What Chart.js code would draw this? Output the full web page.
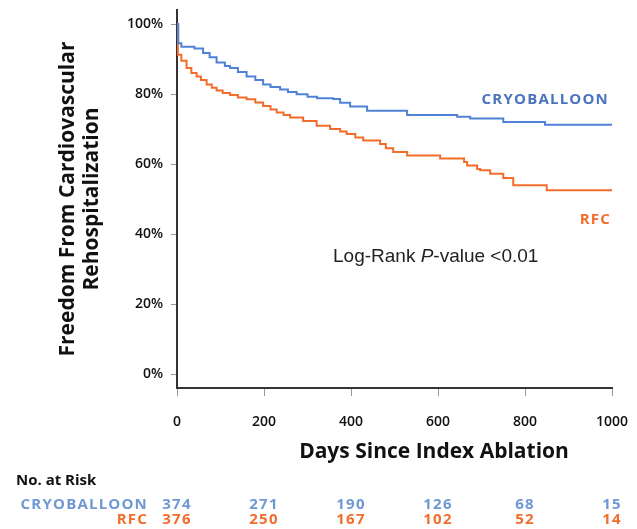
<!DOCTYPE html>
<html>
<head>
<meta charset="utf-8">
<script src="https://cdn.jsdelivr.net/npm/chart.js@4"></script>
<style>
  html, body { margin: 0; padding: 0; background: #fff; overflow: hidden; }
  #wrap { width: 637px; height: 529px; position: relative; }
  canvas { display: block; }
</style>
</head>
<body>
<div id="wrap"><canvas id="km"></canvas></div>
<script>
// Kaplan-Meier curves (days, % free from rehospitalization)
const cryoDays = [0, 3, 10, 40, 60, 75, 91, 110, 122, 140, 160, 180, 198, 215, 237, 255, 275, 300, 322, 359, 375, 398, 437, 529, 644, 674, 750, 846, 1000];
const cryoSurv = [100, 94.5, 93.5, 93, 91.7, 90.5, 89, 88, 87.4, 86.3, 85, 84, 82.7, 82, 81.3, 80.6, 79.9, 79.2, 78.8, 78.6, 77.5, 76.4, 75.2, 74, 73.5, 73, 72, 71.2, 71.2];

const rfcDays = [0, 2, 10, 22, 33, 45, 55, 68, 80, 91, 105, 122, 140, 160, 180, 198, 215, 229, 245, 260, 290, 321, 352, 375, 390, 410, 428, 467, 480, 497, 529, 605, 660, 667, 690, 697, 720, 750, 773, 850, 1000];
const rfcSurv = [100, 91.2, 89.5, 87.4, 86, 85, 84, 82.7, 81.8, 81, 80.3, 79.7, 79, 78.5, 77.6, 76.6, 75.6, 74.7, 74, 73.3, 72.3, 70.9, 70, 69.3, 68.6, 67.6, 66.7, 65.7, 64.5, 63.4, 62.4, 61.6, 60.6, 59.6, 58.6, 58.2, 57.2, 56, 53.9, 52.5, 52.5];

// number at risk table
const riskDays = [0, 200, 400, 600, 800, 1000];
const cryoRisk = [374, 271, 190, 126, 68, 15];
const rfcRisk = [376, 250, 167, 102, 52, 14];

const BLUE = '#4f82d6';
const ORANGE = '#f26d2b';

function pts(xs, ys) {
  return xs.map(function (d, i) { return { x: d, y: ys[i] }; });
}

// extra text: x title, group labels, p-value and risk table
const extras = {
  id: 'extras',
  afterDraw(chart) {
    const ctx = chart.ctx;
    const x = chart.scales.x;
    ctx.save();
    ctx.textBaseline = 'middle';

    ctx.fillStyle = '#111';
    ctx.font = 'bold 21px "Open Sans"';
    ctx.textAlign = 'center';
    ctx.fillText('Days Since Index Ablation', 434, 452);

    // curve labels
    ctx.font = 'bold 15px "Open Sans"';
    ctx.letterSpacing = '1.2px';
    ctx.textAlign = 'right';
    ctx.fillStyle = '#4a74bd';
    ctx.fillText('CRYOBALLOON', 609, 100);
    ctx.fillStyle = ORANGE;
    ctx.fillText('RFC', 611, 220);
    ctx.letterSpacing = '0px';

    // p-value
    ctx.fillStyle = '#222';
    ctx.textAlign = 'left';
    let px = 333;
    const parts = [['Log-Rank ', '19px "Liberation Sans"'], ['P', 'italic 19px "Liberation Sans"'], ['-value <0.01', '19px "Liberation Sans"']];
    parts.forEach(function (p) {
      ctx.font = p[1];
      ctx.fillText(p[0], px, 257);
      px += ctx.measureText(p[0]).width;
    });

    // risk table
    ctx.fillStyle = '#111';
    ctx.font = 'bold 15px "Open Sans"';
    ctx.textAlign = 'left';
    ctx.fillText('No. at Risk', 16, 481);

    ctx.font = 'bold 15px "Open Sans"';
    ctx.letterSpacing = '1.2px';
    ctx.textAlign = 'right';
    ctx.fillStyle = '#6f98d4';
    ctx.fillText('CRYOBALLOON', 148, 505);
    ctx.fillStyle = ORANGE;
    ctx.fillText('RFC', 148, 520);

    ctx.textAlign = 'center';
    riskDays.forEach(function (d, i) {
      const cx = x.getPixelForValue(d);
      ctx.fillStyle = '#6f98d4';
      ctx.fillText(String(cryoRisk[i]), cx, 505);
      ctx.fillStyle = ORANGE;
      ctx.fillText(String(rfcRisk[i]), cx, 520);
    });
    ctx.restore();
  }
};

new Chart(document.getElementById('km'), {
  type: 'line',
  data: {
    datasets: [
      { label: 'CRYOBALLOON', data: pts(cryoDays, cryoSurv), borderColor: BLUE, borderWidth: 2, stepped: true, pointRadius: 0, fill: false },
      { label: 'RFC', data: pts(rfcDays, rfcSurv), borderColor: ORANGE, borderWidth: 2, stepped: true, pointRadius: 0, fill: false }
    ]
  },
  options: {
    responsive: true,
    maintainAspectRatio: false,
    animation: false,
    layout: { padding: { top: 10, right: 25, left: 0, bottom: 0 } },
    plugins: { legend: { display: false }, tooltip: { enabled: false } },
    scales: {
      x: {
        type: 'linear',
        min: 0,
        max: 1000,
        afterFit: function (s) {
          s.height = 141;
          s.paddingLeft = 0;
          s.paddingRight = 0;
        },
        ticks: {
          stepSize: 200,
          padding: 18,
          color: '#111',
          font: { family: 'Open Sans', size: 14, weight: '600' },
          callback: function (v) { return String(v); }
        },
        grid: { drawOnChartArea: false, drawTicks: true, tickLength: 8, color: '#999' },
        border: { display: true, color: '#333', width: 2 }
      },
      y: {
        min: -4,
        max: 104,
        afterFit: function (s) {
          s.width = 177;
          s.paddingTop = 0;
          s.paddingBottom = 0;
        },
        ticks: {
          stepSize: 20,
          includeBounds: false,
          padding: 8,
          color: '#111',
          font: { family: 'Open Sans', size: 14, weight: '600' },
          callback: function (v) { return v + '%'; }
        },
        grid: { drawOnChartArea: false, drawTicks: true, tickLength: 6, color: '#999' },
        border: { display: true, color: '#333', width: 2 },
        title: {
          display: true,
          text: ['Freedom From Cardiovascular', 'Rehospitalization'],
          color: '#111',
          font: { family: 'Open Sans', size: 21, weight: 'bold', lineHeight: 1.15 },
          padding: { top: 56, bottom: 0 }
        }
      }
    }
  },
  plugins: [extras]
});
</script>
</body>
</html>
